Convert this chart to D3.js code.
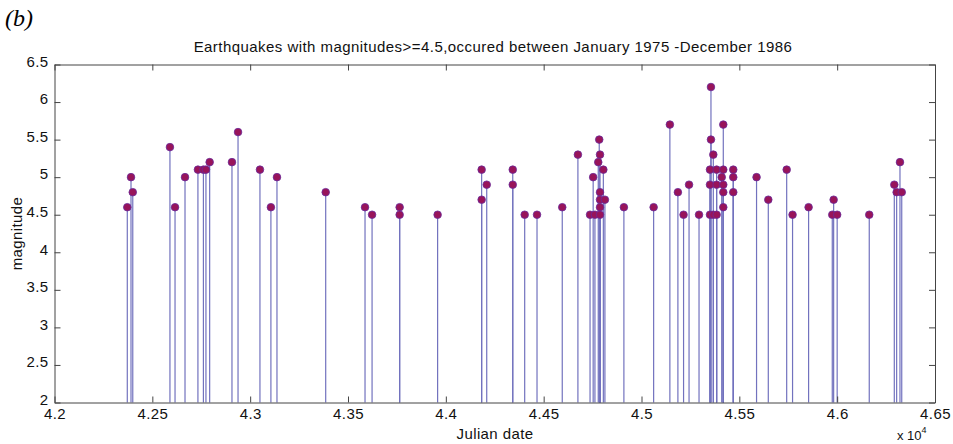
<!DOCTYPE html>
<html>
<head>
<meta charset="utf-8">
<script src="https://cdn.jsdelivr.net/npm/d3@7"></script>
<style>
  body { margin: 0; background: #fff; }
  text { font-family: "Liberation Sans", Arial, sans-serif; }
</style>
</head>
<body>
<svg id="chart" width="953" height="444"></svg>
<script>
// julian dates of each event (same order as magnitudes)
const julianDates = [
  42372, 42391, 42400, 42590, 42616, 42667, 42733, 42761, 42774, 42793,
  42907, 42938, 43050, 43106, 43137, 43386, 43587, 43623, 43764, 43764,
  43958, 44183, 44183, 44209, 44342, 44342, 44403, 44466, 44595, 44675,
  44737, 44753, 44762, 44779, 44784, 44788, 44788, 44788, 44788, 44788,
  44805, 44813, 44910, 45062, 45145, 45186, 45215, 45243, 45294, 45350,
  45350, 45350, 45355, 45355, 45367, 45367, 45384, 45384, 45384, 45410,
  45418, 45418, 45418, 45418, 45418, 45469, 45469, 45469, 45588, 45648,
  45742, 45772, 45854, 45975, 45982, 46000, 46164, 46292, 46304, 46321,
  46330
]
const magnitudes = [
  4.6, 5.0, 4.8, 5.4, 4.6, 5.0, 5.1, 5.1, 5.1, 5.2,
  5.2, 5.6, 5.1, 4.6, 5.0, 4.8, 4.6, 4.5, 4.6, 4.5,
  4.5, 5.1, 4.7, 4.9, 5.1, 4.9, 4.5, 4.5, 4.6, 5.3,
  4.5, 5.0, 4.5, 5.2, 5.5, 5.3, 4.8, 4.7, 4.6, 4.5,
  5.1, 4.7, 4.6, 4.6, 5.7, 4.8, 4.5, 4.9, 4.5, 5.1,
  4.9, 4.5, 6.2, 5.5, 5.3, 4.5, 5.1, 4.9, 4.5, 5.0,
  5.7, 5.1, 4.9, 4.8, 4.6, 5.1, 5.0, 4.8, 5.0, 4.7,
  5.1, 4.5, 4.6, 4.5, 4.7, 4.5, 4.5, 4.9, 4.8, 5.2,
  4.8
]
const xTicks = [42000, 42500, 43000, 43500, 44000, 44500, 45000, 45500, 46000, 46500]
const yTicks = [2, 2.5, 3, 3.5, 4, 4.5, 5, 5.5, 6, 6.5]

const data = julianDates.map((d, i) => ({date: d, mag: magnitudes[i]}))

const svg = d3.select('#chart')
const plot = {left: 54.5, right: 935, top: 64.5, bottom: 402.5}
const fontSize = '15px', spacing = '0.4px'

const x = d3.scaleLinear().domain([42000, 46500]).range([plot.left, plot.right])
const y = d3.scaleLinear().domain([2, 6.5]).range([plot.bottom, plot.top])

// panel label
svg.append('text')
  .attr('x', 5).attr('y', 26)
  .style('font-family', '"Liberation Serif", "Times New Roman", serif')
  .style('font-style', 'italic')
  .style('font-size', '24px')
  .text('(b)')

// title
svg.append('text')
  .attr('x', 493).attr('y', 52)
  .attr('text-anchor', 'middle')
  .style('font-size', fontSize)
  .style('letter-spacing', '0.45px')
  .attr('fill', '#111')
  .text('Earthquakes with magnitudes>=4.5,occured between January 1975 -December 1986')

// stems and markers
const g = svg.append('g')
g.selectAll('.stem')
  .data(data)
  .enter().append('line')
    .attr('class', 'stem')
    .attr('x1', d => x(d.date)).attr('x2', d => x(d.date))
    .attr('y1', y(2)).attr('y2', d => y(d.mag))
    .attr('stroke', '#7272be')
    .attr('stroke-width', 1.2)

g.selectAll('.marker')
  .data(data)
  .enter().append('circle')
    .attr('class', 'marker')
    .attr('cx', d => x(d.date))
    .attr('cy', d => y(d.mag))
    .attr('r', 3.8)
    .attr('fill', '#98145a')
    .attr('stroke', '#6a2a9a')
    .attr('stroke-width', 0.8)

// axes with inward ticks (box on all sides)
const styleAxis = sel => {
  sel.selectAll('path, line').attr('stroke', '#444')
  sel.selectAll('text').style('font-size', fontSize).attr('fill', '#111')
    .style('letter-spacing', spacing)
    .style('font-family', '"Liberation Sans", Arial, sans-serif')
}

svg.append('g')
  .attr('transform', 'translate(0,' + plot.bottom + ')')
  .call(d3.axisBottom(x).tickValues(xTicks).tickSizeInner(-6).tickSizeOuter(0)
    .tickPadding(6).tickFormat(d => d / 1e4))
  .call(styleAxis)

svg.append('g')
  .attr('transform', 'translate(0,' + plot.top + ')')
  .call(d3.axisTop(x).tickValues(xTicks).tickSizeInner(-6).tickSizeOuter(0).tickFormat(''))
  .call(styleAxis)

svg.append('g')
  .attr('transform', 'translate(' + plot.left + ',0)')
  .call(d3.axisLeft(y).tickValues(yTicks).tickSizeInner(-6).tickSizeOuter(0)
    .tickPadding(6).tickFormat(d3.format('')))
  .call(styleAxis)
  .selectAll('text').attr('dy', '0.12em')

svg.append('g')
  .attr('transform', 'translate(' + plot.right + ',0)')
  .call(d3.axisRight(y).tickValues(yTicks).tickSizeInner(-6).tickSizeOuter(0).tickFormat(''))
  .call(styleAxis)

// axis labels
svg.append('text')
  .attr('transform', 'translate(22,' + (plot.top + plot.bottom) / 2 + ') rotate(-90)')
  .attr('text-anchor', 'middle')
  .style('font-size', fontSize)
  .style('letter-spacing', spacing)
  .attr('fill', '#111')
  .text('magnitude')

svg.append('text')
  .attr('x', 495).attr('y', 439)
  .attr('text-anchor', 'middle')
  .style('font-size', fontSize)
  .style('letter-spacing', spacing)
  .attr('fill', '#111')
  .text('Julian date')

const exp = svg.append('text')
  .attr('x', 897).attr('y', 440)
  .style('font-size', '13px')
  .attr('fill', '#111')
exp.append('tspan').text('x 10')
exp.append('tspan').attr('dy', -7).style('font-size', '9px').text('4')
</script>
</body>
</html>
